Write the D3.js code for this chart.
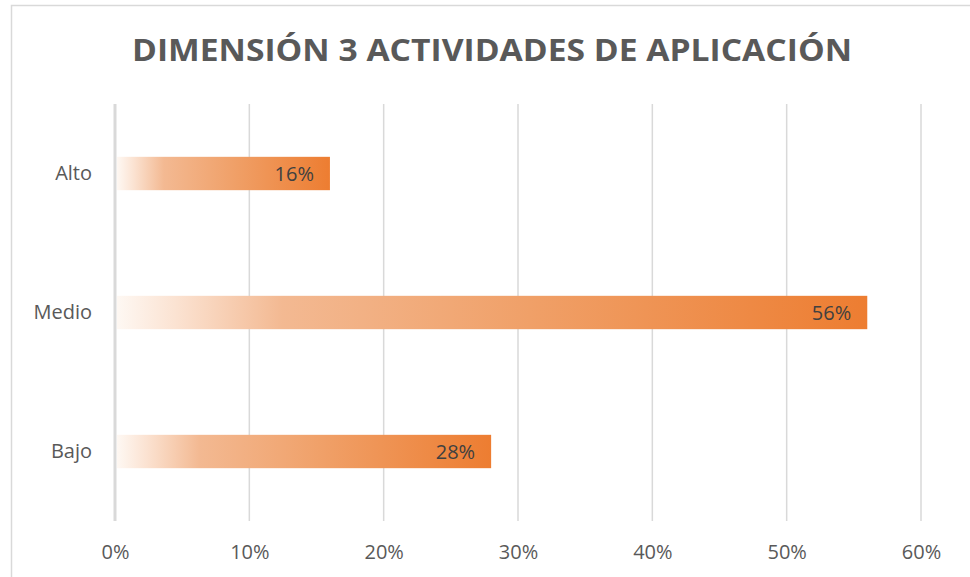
<!DOCTYPE html>
<html>
<head>
<meta charset="utf-8">
<script src="https://cdn.jsdelivr.net/npm/d3@7"></script>
<style>
  body { margin: 0; background: #fff; }
  svg { display: block; font-family: "Open Sans", sans-serif; }
</style>
</head>
<body>
<svg id="chart" width="970" height="577"></svg>
<script>
const title = "DIMENSIÓN 3 ACTIVIDADES DE APLICACIÓN"
const categories = ["Alto", "Medio", "Bajo"]
const values = [0.16, 0.56, 0.28]
const ticks = [0, 0.1, 0.2, 0.3, 0.4, 0.5, 0.6]

const width = 970, height = 577
const margin = {top: 104, right: 49, bottom: 56, left: 115}

const svg = d3.select('#chart')

// chart frame (runs off the right and bottom edges)
svg.append('rect')
  .attr('x', 11.5).attr('y', 5.5)
  .attr('width', 980).attr('height', 600)
  .attr('fill', 'none')
  .attr('stroke', '#d9d9d9')
  .attr('stroke-width', 1.5)

const x = d3.scaleLinear()
  .domain([0, 0.6])
  .range([margin.left, width - margin.right])

const y = d3.scaleBand()
  .domain(categories)
  .range([margin.top, height - margin.bottom])
  .paddingInner(0.76)
  .paddingOuter(0.38)

// gradient, one per bar like excel does
const defs = svg.append('defs')
const grad = defs.append('linearGradient')
  .attr('id', 'barGrad')
  .attr('x1', '0').attr('x2', '1').attr('y1', '0').attr('y2', '0')
const stops = [
  [0, '#fef8f3'], [0.08, '#fbe2d1'], [0.22, '#f3b992'],
  [0.55, '#f0a068'], [1, '#ed7d31']
]
stops.forEach(s => grad.append('stop').attr('offset', s[0]).attr('stop-color', s[1]))

// grid
svg.append('g')
  .selectAll('line')
  .data(ticks.slice(1))
  .enter().append('line')
  .attr('x1', d => x(d)).attr('x2', d => x(d))
  .attr('y1', margin.top).attr('y2', height - margin.bottom)
  .attr('stroke', '#d9d9d9')
  .attr('stroke-width', 1.5)

// bars
svg.append('g')
  .selectAll('rect')
  .data(values)
  .enter().append('rect')
  .attr('x', x(0) + 2)
  .attr('y', (d, i) => y(categories[i]))
  .attr('width', d => x(d) - x(0) - 2)
  .attr('height', y.bandwidth())
  .attr('fill', 'url(#barGrad)')

// zero line
svg.append('line')
  .attr('x1', x(0)).attr('x2', x(0))
  .attr('y1', margin.top).attr('y2', height - margin.bottom)
  .attr('stroke', '#d9d9d9')
  .attr('stroke-width', 3)

// value labels
svg.append('g')
  .selectAll('text')
  .data(values)
  .enter().append('text')
  .attr('x', d => x(d) - 16)
  .attr('y', (d, i) => y(categories[i]) + y.bandwidth() / 2)
  .attr('dy', '0.36em')
  .attr('text-anchor', 'end')
  .attr('font-size', 20)
  .attr('fill', '#404040')
  .text(d => Math.round(d * 100) + '%')

// axes
const xAxis = d3.axisBottom(x)
  .tickValues(ticks)
  .tickFormat(d3.format('.0%'))
  .tickSize(0)
  .tickPadding(24)
svg.append('g')
  .attr('transform', `translate(0,${height - margin.bottom})`)
  .call(xAxis)
  .call(g => g.select('.domain').remove())
  .selectAll('text')
  .attr('font-size', 20)
  .attr('font-family', '"Open Sans", sans-serif')
  .attr('fill', '#595959')

const yAxis = d3.axisLeft(y).tickSize(0).tickPadding(23)
svg.append('g')
  .attr('transform', `translate(${margin.left},0)`)
  .call(yAxis)
  .call(g => g.select('.domain').remove())
  .selectAll('text')
  .attr('font-size', 20)
  .attr('font-family', '"Open Sans", sans-serif')
  .attr('fill', '#595959')

// title
svg.append('text')
  .attr('x', 492).attr('y', 61)
  .attr('text-anchor', 'middle')
  .attr('font-size', 31)
  .attr('font-weight', 'bold')
  .attr('fill', '#595959')
  .attr('textLength', 720)
  .attr('lengthAdjust', 'spacingAndGlyphs')
  .text(title)
</script>
</body>
</html>
